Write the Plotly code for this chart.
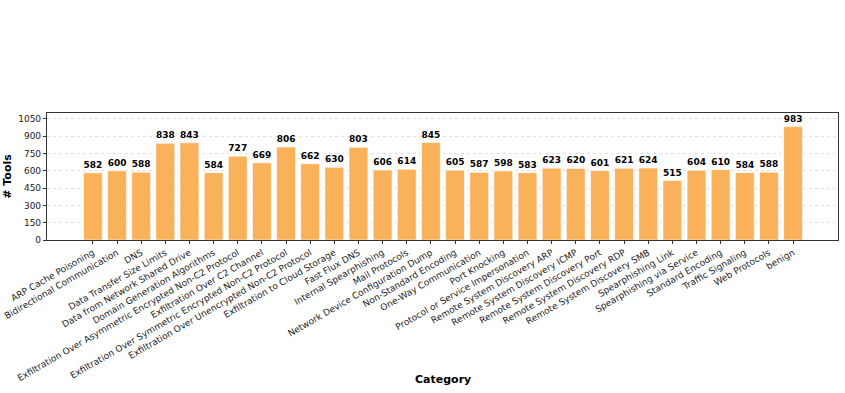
import plotly.graph_objects as go

categories = [
    "ARP Cache Poisoning", "Bidirectional Communication", "DNS", "Data Transfer Size Limits",
    "Data from Network Shared Drive", "Domain Generation Algorithms",
    "Exfiltration Over Asymmetric Encrypted Non-C2 Protocol", "Exfiltration Over C2 Channel",
    "Exfiltration Over Symmetric Encrypted Non-C2 Protocol", "Exfiltration Over Unencrypted Non-C2 Protocol",
    "Exfiltration to Cloud Storage", "Fast Flux DNS", "Internal Spearphishing", "Mail Protocols",
    "Network Device Configuration Dump", "Non-Standard Encoding", "One-Way Communication",
    "Port Knocking", "Protocol or Service Impersonation", "Remote System Discovery ARP",
    "Remote System Discovery ICMP", "Remote System Discovery Port", "Remote System Discovery RDP",
    "Remote System Discovery SMB", "Spearphishing Link", "Spearphishing via Service",
    "Standard Encoding", "Traffic Signaling", "Web Protocols", "benign",
]
tools = [582, 600, 588, 838, 843, 584, 727, 669, 806, 662, 630, 803, 606, 614,
         845, 605, 587, 598, 583, 623, 620, 601, 621, 624, 515, 604, 610, 584, 588, 983]

font = "DejaVu Sans"
n = len(categories)
fig = go.Figure(go.Bar(
    x=list(range(n)), y=tools,
    marker=dict(color="#f9b15a", line=dict(color="rgba(255,255,255,0.6)", width=1)),
    width=0.78,
    text=[str(v) for v in tools], texttemplate="<b>%{text}</b>",
    textposition="outside", textfont=dict(size=9, color="black", family=font),
    cliponaxis=False,
))
fig.update_layout(
    width=845, height=393,
    margin=dict(l=47, r=7, t=113, b=153),
    plot_bgcolor="white", paper_bgcolor="white",
    font=dict(family=font, size=9, color="#222"),
    showlegend=False,
    annotations=[dict(text="<b>Category</b>", xref="paper", yref="paper",
                      x=0.5, y=-1.102, yanchor="middle", showarrow=False,
                      font=dict(size=11, color="black"))],
)
fig.update_xaxes(
    tickmode="array", tickvals=list(range(n)), ticktext=categories,
    tickangle=-30, range=[-1.9, n + 0.86], automargin=False,
    ticks="outside", ticklen=3, tickcolor="#333",
    showline=True, linecolor="#333", linewidth=1.2, mirror=True,
    showgrid=False, tickfont=dict(size=9, color="#222"),
)
fig.update_yaxes(
    range=[0, 1101], tickmode="array", tickvals=list(range(0, 1051, 150)),
    automargin=False,
    ticks="outside", ticklen=3, tickcolor="#333",
    showline=True, linecolor="#333", linewidth=1.2, mirror=True,
    showgrid=True, gridcolor="#e0e0e0", griddash="dot", gridwidth=1,
    tickfont=dict(size=9, color="#222"), zeroline=False,
    title=dict(text="<b># Tools</b>", font=dict(size=11, color="black"), standoff=4),
)
fig.write_html("out.html")
